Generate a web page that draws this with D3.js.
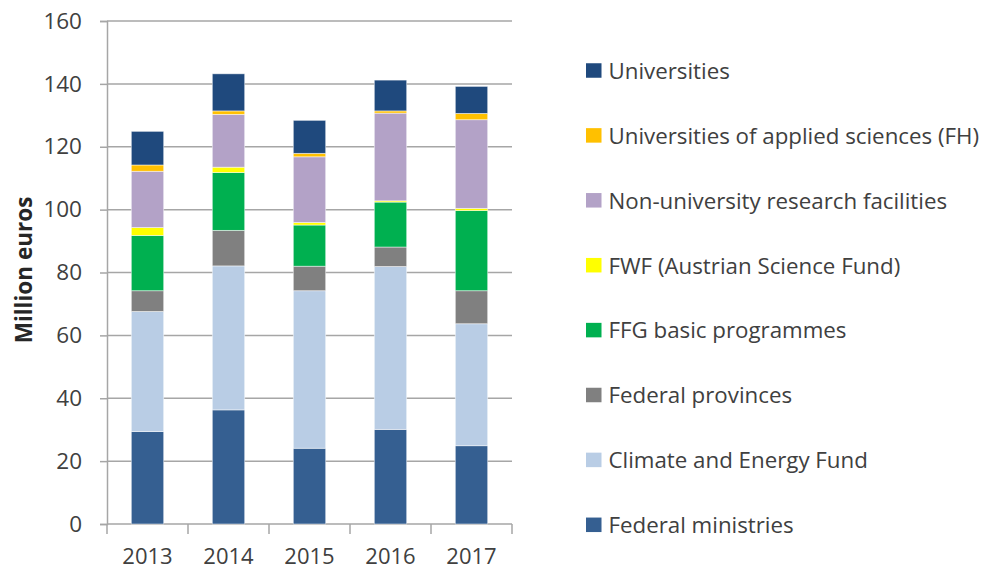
<!DOCTYPE html>
<html>
<head>
<meta charset="utf-8">
<script src="https://cdn.jsdelivr.net/npm/d3@7"></script>
<style>
  body { margin: 0; background: #fff; }
  text { font-family: "Open Sans", Lato, sans-serif; fill: #404040; }
</style>
</head>
<body>
<div id="chart"></div>
<script>
// data (million euros), stacked bottom -> top
const years = ["2013", "2014", "2015", "2016", "2017"];
const series_names = [
  "Federal ministries",
  "Climate and Energy Fund",
  "Federal provinces",
  "FFG basic programmes",
  "FWF (Austrian Science Fund)",
  "Non-university research facilities",
  "Universities of applied sciences (FH)",
  "Universities"
];
const federal_ministries = [29.4, 36.3, 24.1, 30.1, 24.9];
const climate_energy     = [38.2, 45.8, 50.1, 51.8, 38.8];
const federal_provinces  = [6.6, 11.3, 7.8, 6.2, 10.5];
const ffg_basic          = [17.6, 18.4, 13.1, 14.3, 25.5];
const fwf                = [2.5, 1.7, 0.8, 0.4, 0.7];
const non_university     = [17.9, 16.8, 20.9, 27.9, 28.2];
const fh                 = [2.0, 1.1, 1.1, 0.7, 2.0];
const universities       = [10.7, 11.8, 10.5, 9.8, 8.6];
const y_ticks = [0, 20, 40, 60, 80, 100, 120, 140, 160];

const colors = ["#355F91", "#B9CDE5", "#808080", "#00B050", "#FFFF00", "#B3A2C7", "#FFC000", "#1F497D"];

const all_series = [federal_ministries, climate_energy, federal_provinces, ffg_basic,
                    fwf, non_university, fh, universities];

const table = years.map((y, i) => {
  const row = { year: y };
  series_names.forEach((n, k) => { row[n] = all_series[k][i]; });
  return row;
});

const width = 999, height = 569;
const margin = { left: 107, right: 487, top: 21, bottom: 45 };

const svg = d3.select("#chart").append("svg")
  .attr("width", width)
  .attr("height", height);

const x_scale = d3.scaleBand()
  .domain(years)
  .range([margin.left, width - margin.right])
  .paddingInner(0.6)
  .paddingOuter(0.3);

const y_scale = d3.scaleLinear()
  .domain([0, 160])
  .range([height - margin.bottom, margin.top]);

const grid_color = "#A6A6A6";

// horizontal gridlines
svg.append("g")
  .selectAll("line")
  .data(y_ticks.filter(d => d > 0))
  .join("line")
    .attr("x1", margin.left)
    .attr("x2", width - margin.right)
    .attr("y1", d => y_scale(d))
    .attr("y2", d => y_scale(d))
    .attr("stroke", grid_color)
    .attr("stroke-width", 1.5);

// y axis
const y_axis = svg.append("g")
  .attr("transform", "translate(" + margin.left + ",0)")
  .call(d3.axisLeft(y_scale).tickValues(y_ticks).tickSize(7).tickPadding(18));
y_axis.select(".domain").attr("stroke", grid_color).attr("stroke-width", 1.5);
y_axis.selectAll(".tick line").attr("stroke", grid_color).attr("stroke-width", 1.5);
y_axis.selectAll(".tick text")
  .attr("font-size", 22.5)
  .style("font-family", "'Open Sans', sans-serif")
  .attr("fill", "#404040");

// x axis, ticks sit on band boundaries
const x_axis = svg.append("g")
  .attr("transform", "translate(0," + y_scale(0) + ")");
x_axis.append("line")
  .attr("x1", margin.left).attr("x2", width - margin.right)
  .attr("stroke", grid_color).attr("stroke-width", 1.5);
const step = (width - margin.right - margin.left) / years.length;
x_axis.selectAll(".xt")
  .data(d3.range(years.length + 1))
  .join("line")
    .attr("class", "xt")
    .attr("x1", i => margin.left + i * step)
    .attr("x2", i => margin.left + i * step)
    .attr("y1", 0).attr("y2", 10)
    .attr("stroke", grid_color).attr("stroke-width", 1.5);
x_axis.selectAll("text")
  .data(years)
  .join("text")
    .attr("x", d => x_scale(d) + x_scale.bandwidth() / 2)
    .attr("y", 40)
    .attr("text-anchor", "middle")
    .attr("font-size", 22)
    .text(d => d);

// stacked bars
const stacked = d3.stack().keys(series_names)(table);

svg.append("g")
  .selectAll("g")
  .data(stacked)
  .join("g")
    .attr("fill", (d, i) => colors[i])
  .selectAll("rect")
  .data(d => d)
  .join("rect")
    .attr("x", d => x_scale(d.data.year))
    .attr("width", x_scale.bandwidth())
    .attr("y", d => y_scale(d[1]))
    .attr("height", d => y_scale(d[0]) - y_scale(d[1]))
    .attr("stroke", "#ffffff")
    .attr("stroke-opacity", 0.6)
    .attr("stroke-width", 0.8);

// y axis title
svg.append("text")
  .attr("transform", "translate(32,270) rotate(-90)")
  .attr("text-anchor", "middle")
  .attr("font-size", 22.5)
  .attr("font-weight", "bold")
  .style("fill", "#262626")
  .text("Million euros");

// legend, top entry is the top of the stack
const legend_order = series_names.map((n, i) => i).reverse();
const legend = svg.append("g")
  .selectAll("g")
  .data(legend_order)
  .join("g")
    .attr("transform", (d, j) => "translate(586," + (70.5 + j * 64.9) + ")");
legend.append("rect")
  .attr("x", 0).attr("y", -7.25)
  .attr("width", 15.5).attr("height", 14.5)
  .attr("fill", i => colors[i]);
legend.append("text")
  .attr("x", 22.5)
  .attr("y", 8.3)
  .attr("font-size", 22.3)
  .text(i => series_names[i]);
</script>
</body>
</html>
